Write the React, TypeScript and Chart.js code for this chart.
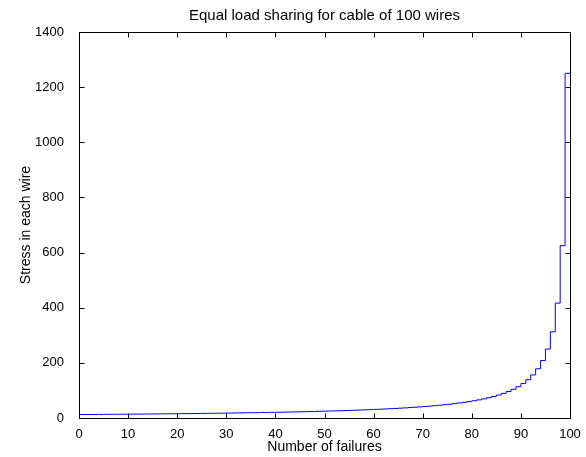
import React, { useEffect, useRef } from "react";
import { Chart, registerables } from "chart.js";

Chart.register(...registerables);

const failures: number[] = [
  0, 1, 2, 3, 4, 5, 6, 7, 8, 9, 10, 11, 12, 13, 14, 15, 16, 17, 18, 19,
  20, 21, 22, 23, 24, 25, 26, 27, 28, 29, 30, 31, 32, 33, 34, 35, 36, 37, 38, 39,
  40, 41, 42, 43, 44, 45, 46, 47, 48, 49, 50, 51, 52, 53, 54, 55, 56, 57, 58, 59,
  60, 61, 62, 63, 64, 65, 66, 67, 68, 69, 70, 71, 72, 73, 74, 75, 76, 77, 78, 79,
  80, 81, 82, 83, 84, 85, 86, 87, 88, 89, 90, 91, 92, 93, 94, 95, 96, 97, 98, 99, 100,
];

const stress: number[] = [
  12.5, 12.63, 12.76, 12.89, 13.02, 13.16, 13.3, 13.44, 13.59, 13.74,
  13.89, 14.04, 14.2, 14.37, 14.53, 14.71, 14.88, 15.06, 15.24, 15.43,
  15.63, 15.82, 16.03, 16.23, 16.45, 16.67, 16.89, 17.12, 17.36, 17.61,
  17.86, 18.12, 18.38, 18.66, 18.94, 19.23, 19.53, 19.84, 20.16, 20.49,
  20.83, 21.19, 21.55, 21.93, 22.32, 22.73, 23.15, 23.58, 24.04, 24.51,
  25.0, 25.51, 26.04, 26.6, 27.17, 27.78, 28.41, 29.07, 29.76, 30.49,
  31.25, 32.05, 32.89, 33.78, 34.72, 35.71, 36.76, 37.88, 39.06, 40.32,
  41.67, 43.1, 44.64, 46.3, 48.08, 50.0, 52.08, 54.35, 56.82, 59.52,
  62.5, 65.79, 69.44, 73.53, 78.13, 83.33, 89.29, 96.15, 104.17, 113.64,
  125.0, 138.89, 156.25, 178.57, 208.33, 250.0, 312.5, 416.67, 625.0, 1250.0,
  1250.0,
];

const titleText = "Equal load sharing for cable of 100 wires";
const xLabel = "Number of failures";
const yLabel = "Stress in each wire";
const xTicks: number[] = [0, 10, 20, 30, 40, 50, 60, 70, 80, 90, 100];
const yTicks: number[] = [0, 200, 400, 600, 800, 1000, 1200, 1400];

const FONT = "'Liberation Sans', Arial, sans-serif";

const boxPlugin = {
  id: "matlabBox",
  afterDraw(chart: any) {
    const ctx = chart.ctx;
    const { left, right, top, bottom } = chart.chartArea;
    const xs = chart.scales.x;
    const ys = chart.scales.y;
    const L = Math.round(left) + 0.5;
    const R = Math.round(right) + 0.5;
    const T = Math.round(top) + 0.5;
    const B = Math.round(bottom) + 0.5;
    const tl = 5;
    ctx.save();
    ctx.strokeStyle = "#000";
    ctx.lineWidth = 1;
    ctx.beginPath();
    ctx.rect(L, T, R - L, B - T);
    for (const v of xTicks) {
      const px = Math.round(xs.getPixelForValue(v)) + 0.5;
      ctx.moveTo(px, B);
      ctx.lineTo(px, B - tl);
      ctx.moveTo(px, T);
      ctx.lineTo(px, T + tl);
    }
    for (const v of yTicks) {
      const py = Math.round(ys.getPixelForValue(v)) + 0.5;
      ctx.moveTo(L, py);
      ctx.lineTo(L + tl, py);
      ctx.moveTo(R, py);
      ctx.lineTo(R - tl, py);
    }
    ctx.stroke();
    ctx.fillStyle = "#000";
    ctx.font = `15px ${FONT}`;
    ctx.textAlign = "center";
    ctx.textBaseline = "middle";
    ctx.fillText(titleText, (left + right) / 2, 16);
    ctx.restore();
  },
};

export default function App() {
  const ref = useRef<HTMLCanvasElement | null>(null);
  useEffect(() => {
    if (!ref.current) return;
    const chart = new Chart(ref.current, {
      type: "line",
      data: {
        datasets: [
          {
            data: failures.map((x, i) => ({ x, y: stress[i] })),
            borderColor: "#0000ff",
            borderWidth: 1,
            pointRadius: 0,
            stepped: "before",
            fill: false,
          },
        ],
      },
      options: {
        animation: false,
        responsive: false,
        devicePixelRatio: 1,
        layout: { padding: { top: 32, left: 0, right: 16, bottom: 0 } },
        plugins: {
          legend: { display: false },
          tooltip: { enabled: false },
          title: { display: false },
        },
        scales: {
          x: {
            type: "linear",
            min: 0,
            max: 100,
            border: { display: false },
            grid: { display: false },
            ticks: {
              stepSize: 10,
              padding: 1,
              color: "#000",
              font: { family: FONT, size: 13 },
              maxRotation: 0,
              callback: (v: any) => String(v),
            },
            title: {
              display: true,
              text: xLabel,
              color: "#000",
              font: { family: FONT, size: 14 },
              padding: { top: 0, bottom: 1 },
            },
            afterFit: (s: any) => {
              s.height = 39;
            },
          },
          y: {
            type: "linear",
            min: 0,
            max: 1400,
            border: { display: false },
            grid: { display: false },
            ticks: {
              stepSize: 200,
              padding: 7,
              color: "#000",
              font: { family: FONT, size: 13 },
              callback: (v: any) => String(v),
            },
            title: {
              display: true,
              text: yLabel,
              color: "#000",
              font: { family: FONT, size: 14 },
              padding: { top: 18, bottom: 0 },
            },
            afterFit: (s: any) => {
              s.width = 79;
            },
          },
        },
      },
      plugins: [boxPlugin],
    });
    return () => chart.destroy();
  }, []);
  return (
    <canvas
      ref={ref}
      width={586}
      height={457}
      style={{ position: "absolute", left: 0, top: 0, width: 586, height: 457 }}
    />
  );
}
